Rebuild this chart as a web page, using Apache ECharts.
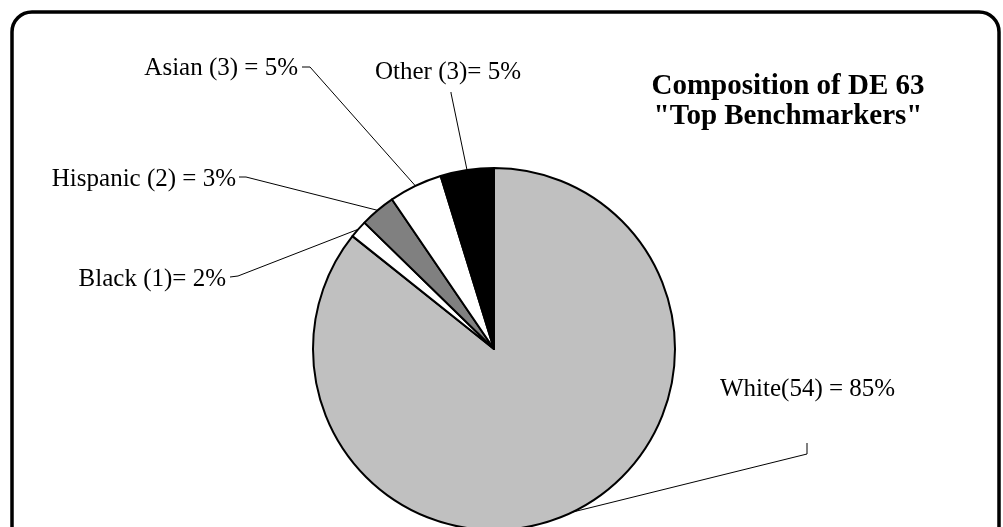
<!DOCTYPE html>
<html>
<head>
<meta charset="utf-8">
<script src="https://cdn.jsdelivr.net/npm/echarts@6/dist/echarts.min.js"></script>
<style>
  html, body { margin: 0; padding: 0; background: #fff; }
  #chart { width: 1003px; height: 527px; }
</style>
</head>
<body>
<div id="chart"></div>
<script>
// data (counts, 63 in total)
var groups = ["White", "Black", "Hispanic", "Asian", "Other"];
var counts = [54, 1, 2, 3, 3];
var labelTexts = ["White(54) = 85%", "Black (1)= 2%", "Hispanic (2) = 3%", "Asian (3) = 5%", "Other (3)= 5%"];
var fills = ["#c0c0c0", "#ffffff", "#808080", "#ffffff", "#000000"];

// where each label sits, and the bend of its leader line
var labelPos = [[720, 389, "left"], [226, 279, "right"], [236, 179, "right"], [298, 68, "right"], [375, 72, "left"]];
var lineBend = [[[807, 454], [807, 443]], [[238, 276], [230, 277]], [[246, 177], [239, 177]], [[310, 67], [302, 67]], [[451, 93], [451, 92]]];

var chart = echarts.init(document.getElementById("chart"));

var pieData = groups.map(function (g, i) {
  return { name: g, value: counts[i], itemStyle: { color: fills[i] } };
});

var option = {
  animation: false,
  title: {
    text: 'Composition of DE 63\n"Top Benchmarkers"',
    left: 783,
    top: 67,
    textAlign: "center",
    textStyle: {
      fontFamily: "Liberation Serif",
      fontWeight: "bold",
      fontSize: 29,
      lineHeight: 30,
      color: "#000"
    }
  },
  graphic: [
    {
      type: "rect",
      shape: { x: 12, y: 12, width: 987, height: 540, r: 20 },
      style: { fill: null, stroke: "#000", lineWidth: 3.5 },
      silent: true
    }
  ],
  series: [
    {
      type: "pie",
      center: [494, 349],
      radius: 181,
      startAngle: 90,
      clockwise: true,
      data: pieData,
      itemStyle: { borderColor: "#000", borderWidth: 2 },
      label: {
        show: true,
        position: "outside",
        formatter: function (p) { return labelTexts[p.dataIndex]; },
        fontFamily: "Liberation Serif",
        fontSize: 25,
        color: "#000"
      },
      labelLine: {
        show: true,
        lineStyle: { color: "#000", width: 1 }
      },
      labelLayout: function (p) {
        var t = labelPos[p.dataIndex];
        var b = lineBend[p.dataIndex];
        var a = p.labelLinePoints && p.labelLinePoints[0];
        return {
          x: t[0],
          y: t[1],
          align: t[2],
          verticalAlign: "middle",
          hideOverlap: false,
          labelLinePoints: [a, b[0], b[1]]
        };
      },
      emphasis: { disabled: true }
    }
  ]
};

chart.setOption(option);
</script>
</body>
</html>
